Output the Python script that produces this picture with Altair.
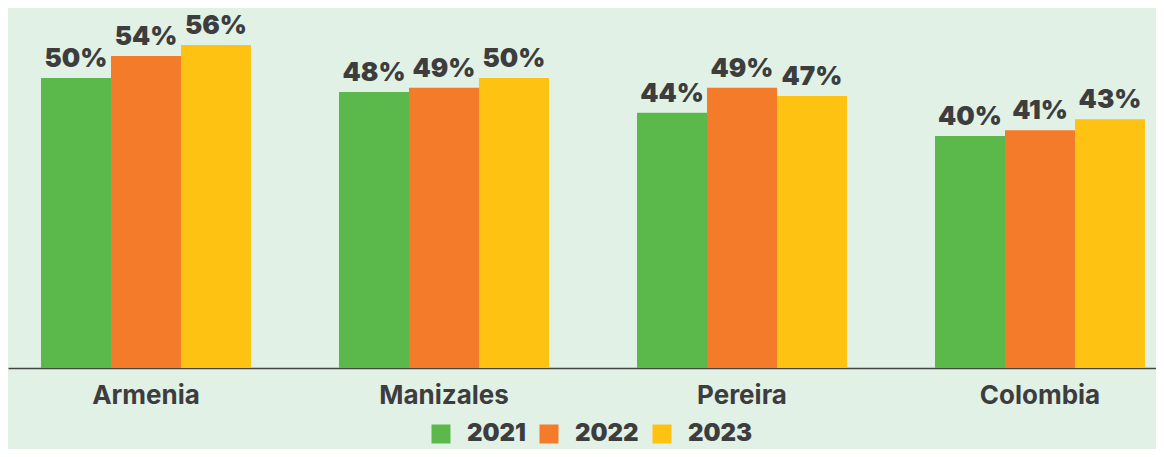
import altair as alt
import pandas as pd

cities = ["Armenia", "Manizales", "Pereira", "Colombia"]
years = ["2021", "2022", "2023"]
# bar heights
v2021 = [50.0, 47.6, 44.0, 40.0]
v2022 = [53.8, 48.3, 48.3, 41.0]
v2023 = [55.7, 50.0, 46.9, 42.9]
# labels as printed on the picture
t2021 = ["50%", "48%", "44%", "40%"]
t2022 = ["54%", "49%", "49%", "41%"]
t2023 = ["56%", "50%", "47%", "43%"]
colors = ["#5ab94a", "#f47b2a", "#fec312"]

rows = []
for i, c in enumerate(cities):
    for y, vals, txt in zip(years, [v2021, v2022, v2023], [t2021, t2022, t2023]):
        rows.append({"city": c, "year": y, "value": vals[i], "label": txt[i]})
df = pd.DataFrame(rows)

FONT = "Inter"
TXT = "#3d3d3d"

x = alt.X("city:N", sort=cities, title=None,
          scale=alt.Scale(range=[0, 1170], paddingInner=0.2953, paddingOuter=0.1107),
          axis=alt.Axis(labelAngle=0, ticks=False, labelPadding=14, labelFontSize=26,
                        labelFont=FONT, labelFontWeight="bold", labelColor=TXT,
                        domainColor="#444444", domainWidth=1.5))
xo = alt.XOffset("year:N", sort=years, scale=alt.Scale(paddingInner=0, paddingOuter=0))
y = alt.Y("value:Q", scale=alt.Scale(domain=[0, 62.07], nice=False), axis=None)

bars = alt.Chart(df).mark_bar().encode(
    x=x, xOffset=xo, y=y,
    color=alt.Color("year:N", sort=years, scale=alt.Scale(domain=years, range=colors),
                    legend=alt.Legend(title=None, orient="none", direction="horizontal",
                                      legendX=421, legendY=414, padding=0,
                                      symbolType="square", symbolSize=361, symbolStrokeWidth=0,
                                      symbolOpacity=1, labelFontSize=24, labelFont=FONT,
                                      labelFontWeight=900, labelColor=TXT, labelOffset=14,
                                      columnPadding=11)),
)
labels = alt.Chart(df).mark_text(dy=-11, baseline="alphabetic", fontSize=26, font=FONT,
                                 fontWeight=900, color=TXT).encode(
    x=x, xOffset=xo, y=y, text="label:N")

chart = alt.layer(bars, labels).properties(
    width=1148, height=360,
    autosize=alt.AutoSizeParams(type="none"),
    padding={"left": 0, "top": 0, "right": 0, "bottom": 81},
    background="#e1f1e6",
).configure_view(stroke=None)

chart.save("out.html", embed_options={"renderer": "svg", "actions": False})
